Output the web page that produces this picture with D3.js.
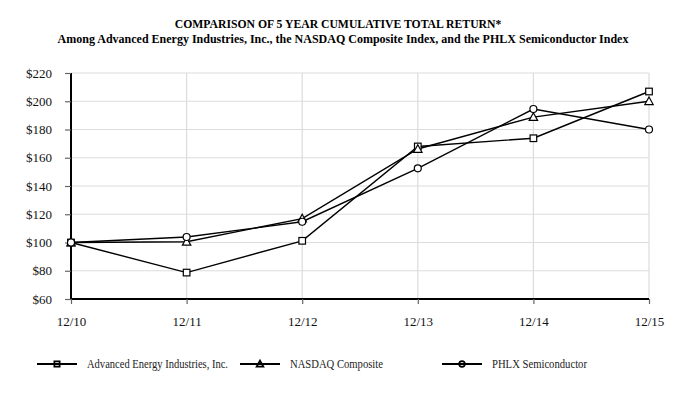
<!DOCTYPE html>
<html>
<head>
<meta charset="utf-8">
<script src="https://cdn.jsdelivr.net/npm/d3@7"></script>
<style>
  body { margin: 0; background: #fff; }
  text { font-family: "Liberation Serif", "Times New Roman", serif; }
</style>
</head>
<body>
<div id="vis1"></div>
<script>
// Data
const YEARS = ["12/10", "12/11", "12/12", "12/13", "12/14", "12/15"];
const AEIS = [100, 78.7, 101.2, 168.0, 173.8, 206.9];
const NASDAQ = [100, 100.5, 116.9, 166.2, 188.8, 200.0];
const PHLX = [100, 103.9, 114.7, 152.5, 194.5, 180.0];
const Y_TICKS = [60, 80, 100, 120, 140, 160, 180, 200, 220];
const SERIES_NAMES = ["Advanced Energy Industries, Inc.", "NASDAQ Composite", "PHLX Semiconductor"];
const SYMBOLS = ["square", "triangle", "circle"];

// Frame
const FRAME_HEIGHT = 400;
const FRAME_WIDTH = 682;
const MARGINS = {left: 71, right: 33, top: 73, bottom: 101};
const VIS_HEIGHT = FRAME_HEIGHT - MARGINS.top - MARGINS.bottom;
const VIS_WIDTH = FRAME_WIDTH - MARGINS.left - MARGINS.right;

const FRAME1 = d3.select("#vis1")
                 .append("svg")
                 .attr("height", FRAME_HEIGHT)
                 .attr("width", FRAME_WIDTH)
                 .attr("class", "frame");

// Title
FRAME1.append("text")
      .attr("x", 338)
      .attr("y", 28)
      .attr("text-anchor", "middle")
      .attr("font-weight", "bold")
      .attr("font-size", "11.7px")
      .text("COMPARISON OF 5 YEAR CUMULATIVE TOTAL RETURN*");
FRAME1.append("text")
      .attr("x", 343)
      .attr("y", 42.5)
      .attr("text-anchor", "middle")
      .attr("font-weight", "bold")
      .attr("font-size", "12px")
      .text("Among Advanced Energy Industries, Inc., the NASDAQ Composite Index, and the PHLX Semiconductor Index");

// Scales
const X_SCALE = d3.scalePoint().domain(YEARS).range([0, VIS_WIDTH]);
const Y_SCALE = d3.scaleLinear().domain([60, 220]).range([VIS_HEIGHT, 0]);

const G = FRAME1.append("g")
                .attr("transform", "translate(" + MARGINS.left + "," + MARGINS.top + ")");

// Grid lines
G.append("g")
 .selectAll("line.hgrid")
 .data(Y_TICKS.slice(1))
 .enter()
 .append("line")
 .attr("x1", 0)
 .attr("x2", VIS_WIDTH)
 .attr("y1", d => Y_SCALE(d))
 .attr("y2", d => Y_SCALE(d))
 .attr("stroke", "#dcdcdc")
 .attr("stroke-width", 1.2);

G.append("g")
 .selectAll("line.vgrid")
 .data(YEARS.slice(1))
 .enter()
 .append("line")
 .attr("x1", d => X_SCALE(d))
 .attr("x2", d => X_SCALE(d))
 .attr("y1", 0)
 .attr("y2", VIS_HEIGHT)
 .attr("stroke", "#dcdcdc")
 .attr("stroke-width", 1.2);

// Axes
const xAxis = G.append("g")
               .attr("transform", "translate(0," + VIS_HEIGHT + ")")
               .call(d3.axisBottom(X_SCALE).tickSize(5).tickPadding(13));
const yAxis = G.append("g")
               .call(d3.axisLeft(Y_SCALE).tickValues(Y_TICKS).tickSize(6).tickPadding(13)
                     .tickFormat(d => "$" + d));

[xAxis, yAxis].forEach(ax => {
  ax.select(".domain").attr("stroke", "#000").attr("stroke-width", 2);
  ax.selectAll(".tick line").attr("stroke", "#666").attr("stroke-width", 1.2);
  ax.selectAll("text")
    .attr("font-family", "Liberation Serif, serif")
    .attr("font-size", "13px")
    .attr("fill", "#111");
});
yAxis.select(".domain").attr("d", "M0," + VIS_HEIGHT + "V0");
xAxis.select(".domain").attr("d", "M0,0H" + VIS_WIDTH);

// Lines and markers
const ALL = [AEIS, NASDAQ, PHLX];
const line = d3.line()
               .x((d, i) => X_SCALE(YEARS[i]))
               .y(d => Y_SCALE(d));

function drawMarker(sel, kind) {
  if (kind === "square") {
    sel.append("rect").attr("x", -3.3).attr("y", -3.3).attr("width", 6.6).attr("height", 6.6);
  } else if (kind === "triangle") {
    sel.append("path").attr("d", "M0,-4.3L4.2,3.3H-4.2Z");
  } else {
    sel.append("circle").attr("r", 3.5);
  }
  sel.attr("fill", "#fff").attr("stroke", "#000").attr("stroke-width", 1.2);
}

ALL.forEach((vals, s) => {
  G.append("path")
   .datum(vals)
   .attr("d", line)
   .attr("fill", "none")
   .attr("stroke", "#000")
   .attr("stroke-width", 1.4);
});
ALL.forEach((vals, s) => {
  vals.forEach((v, i) => {
    const m = G.append("g")
               .attr("transform", "translate(" + X_SCALE(YEARS[i]) + "," + Y_SCALE(v) + ")");
    drawMarker(m, SYMBOLS[s]);
  });
});

// Legend
const LEGEND_X = [37, 240, 442];
const LEGEND_TEXT_W = [141, 93, 95];
SERIES_NAMES.forEach((name, s) => {
  const lg = FRAME1.append("g").attr("transform", "translate(" + LEGEND_X[s] + ",364)");
  lg.append("line")
    .attr("x1", 0).attr("x2", 40)
    .attr("y1", 0).attr("y2", 0)
    .attr("stroke", "#000").attr("stroke-width", 2);
  const m = lg.append("g").attr("transform", "translate(20,0) scale(0.8)");
  drawMarker(m, SYMBOLS[s]);
  m.selectAll("*").attr("fill", "none").attr("stroke-width", 2.2);
  lg.append("text")
    .attr("x", 50)
    .attr("y", 4)
    .attr("font-size", "11.5px")
    .attr("textLength", LEGEND_TEXT_W[s])
    .attr("lengthAdjust", "spacingAndGlyphs")
    .attr("fill", "#222")
    .text(name);
});
</script>
</body>
</html>
